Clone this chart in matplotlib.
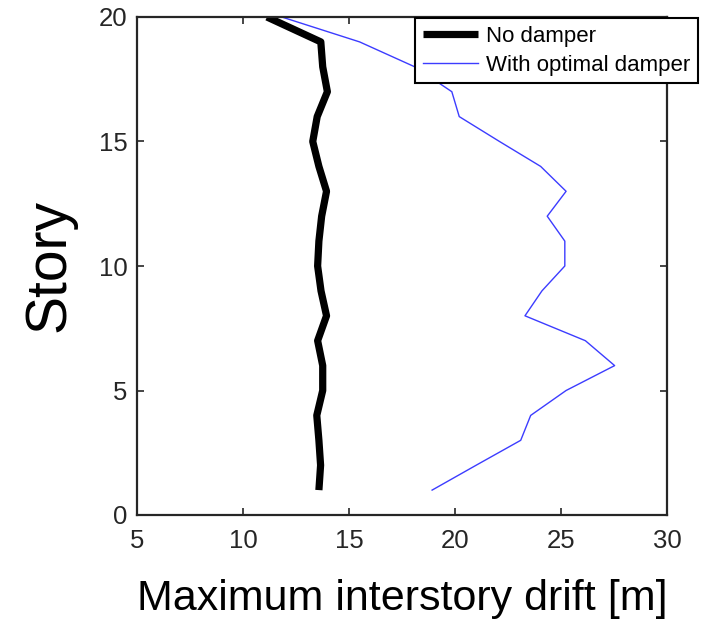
import matplotlib
matplotlib.use("Agg")
import matplotlib.pyplot as plt

plt.rcParams['font.family'] = ['Liberation Sans', 'DejaVu Sans']

stories = list(range(1, 21))
no_damper = [13.58, 13.66, 13.58, 13.48, 13.76, 13.76, 13.52, 13.94, 13.68, 13.52,
             13.58, 13.71, 13.94, 13.58, 13.29, 13.50, 13.98, 13.76, 13.67, 11.13]
optimal_damper = [18.92, 21.0, 23.1, 23.57, 25.24, 27.53, 26.15, 23.3, 24.1, 25.18,
                  25.18, 24.35, 25.24, 24.04, 22.1, 20.2, 19.85, 18.1, 15.5, 11.83]
x_ticks = [5, 10, 15, 20, 25, 30]
y_ticks = [0, 5, 10, 15, 20]
labels = ["No damper", "With optimal damper"]

W, H = 702, 622
fig = plt.figure(figsize=(W / 100, H / 100), dpi=100)
ax = fig.add_axes([137 / W, 1 - 515 / H, (667 - 137) / W, (515 - 17) / H])

ax.plot(no_damper, stories, color='black', lw=5.2, solid_capstyle='butt',
        solid_joinstyle='round', label=labels[0])
ax.plot(optimal_damper, stories, color='#3c3cff', lw=1.0, label=labels[1])

ax.set_xlim(5, 30)
ax.set_ylim(0, 20)
ax.set_xticks(x_ticks)
ax.set_yticks(y_ticks)

dark = '#262626'
for s in ax.spines.values():
    s.set_color(dark)
    s.set_linewidth(1.6)
ax.tick_params(direction='in', length=5, width=1.2, color=dark, labelcolor=dark,
               top=True, right=True, labelsize=18.5)
ax.tick_params(axis='x', pad=10)
ax.tick_params(axis='y', pad=7)

ax.set_xlabel('Maximum interstory drift [m]', fontsize=31, labelpad=19, color='black')
ax.set_ylabel('Story', fontsize=41, labelpad=16, color='black')

leg = ax.legend(loc='upper right', bbox_to_anchor=(698 / W, 1 - 18 / H),
                bbox_transform=fig.transFigure, borderaxespad=0, fontsize=16,
                frameon=True, fancybox=False, framealpha=1, edgecolor='black',
                handlelength=2.5, handletextpad=0.35, labelspacing=0.35,
                borderpad=0.35)
leg.get_frame().set_linewidth(1.5)

fig.savefig('out.png', dpi=100)
